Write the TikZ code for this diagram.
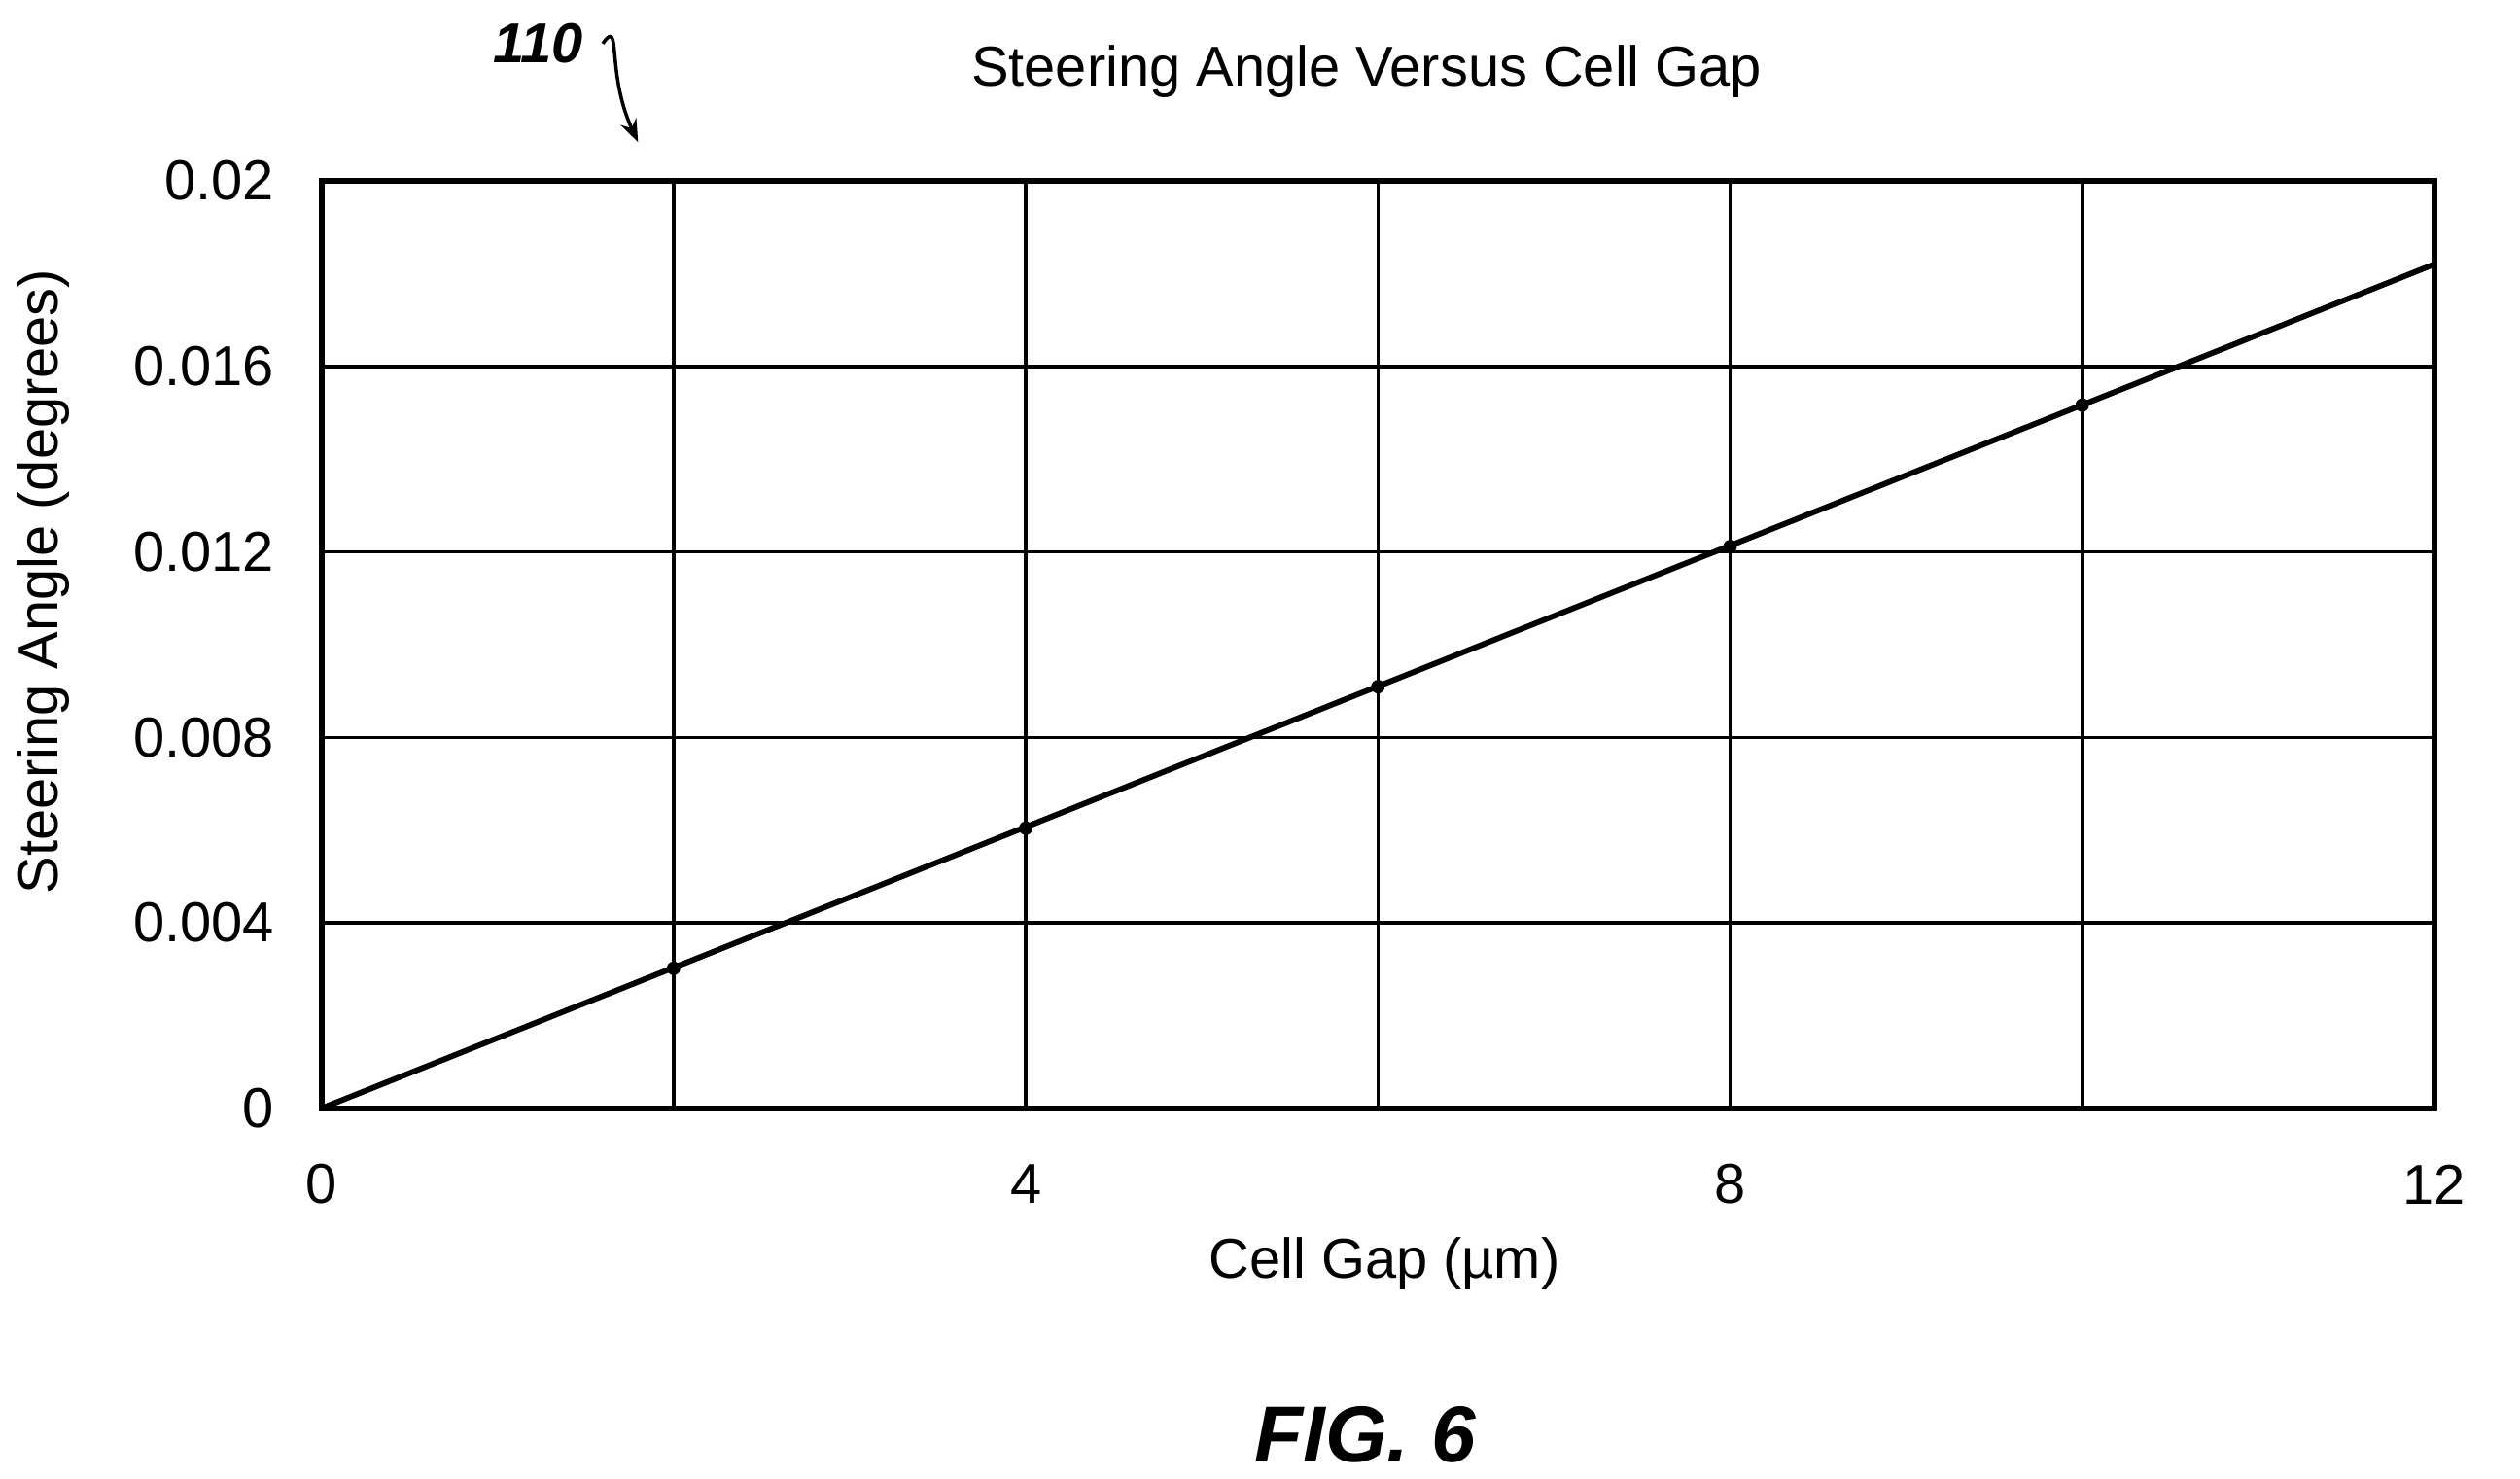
\documentclass[tikz,border=0pt]{standalone}
\usepackage{fontspec}
\setmainfont{Liberation Sans}
\usetikzlibrary{arrows.meta, positioning}

\begin{document}
\begin{tikzpicture}[
        font=\fontsize{9.9}{11}\selectfont,
        grid/.style={line width=0.6pt},
        curve/.style={line width=1pt},
        ticklbl/.style={inner sep=1pt}
    ]
        \useasboundingbox (0,0) rectangle (15.6,9.15);
        % Plot frame and grid
        \coordinate (origin) at (1.99,2.29);
        \coordinate (corner) at (15.07,8.03);
        \foreach \i in {0,...,6}
            \draw[grid] ({1.99+\i*13.08/6},2.29) -- ({1.99+\i*13.08/6},8.03);
        \foreach \j in {0,...,5}
            \draw[grid] (1.99,{2.29+\j*5.74/5}) -- (15.07,{2.29+\j*5.74/5});
        \draw[line width=1pt] (origin) rectangle (corner);

        % Tick labels
        \foreach \v [count=\j from 0] in {0,0.004,0.008,0.012,0.016,0.02}
            \node[ticklbl, anchor=east] (y\j) at (1.74,{2.29+\j*5.74/5}) {\v};
        \foreach \v [count=\i from 0] in {0,4,8,12}
            \node[ticklbl] (x\i) at ({1.99+\i*13.08/3},1.82) {\v};

        % Data line
        \coordinate (start) at (origin);
        \coordinate (finish) at (15.07,{2.29+0.0182/0.02*5.74});
        \draw[curve] (start) -- (finish);
        \foreach \i in {1,...,5}
            \fill ({1.99+\i*13.08/6},{2.29+\i*0.0182/12*2*5.74/0.02}) circle (1.2pt);

        % Labels
        \node (title) at (8.46,8.71) {Steering Angle Versus Cell Gap};
        \node (xlabel) at (8.57,1.33) {Cell Gap (µm)};
        \node[rotate=90] (ylabel) at (0.27,5.55) {Steering Angle (degrees)};
        \node[font=\fontsize{14}{16}\selectfont\bfseries\itshape] (fig) at (8.45,0.27) {FIG. 6};
        \node[font=\fontsize{9.9}{11}\selectfont\bfseries\itshape] (ref) at (3.33,8.88) {110};
        \coordinate (refend) at (3.95,8.27);
        \draw[-{Stealth[length=4pt]}, line width=0.6pt] (ref.east) .. controls (3.85,9.05) and (3.75,8.7) .. (refend);
    \end{tikzpicture}
\end{document}
